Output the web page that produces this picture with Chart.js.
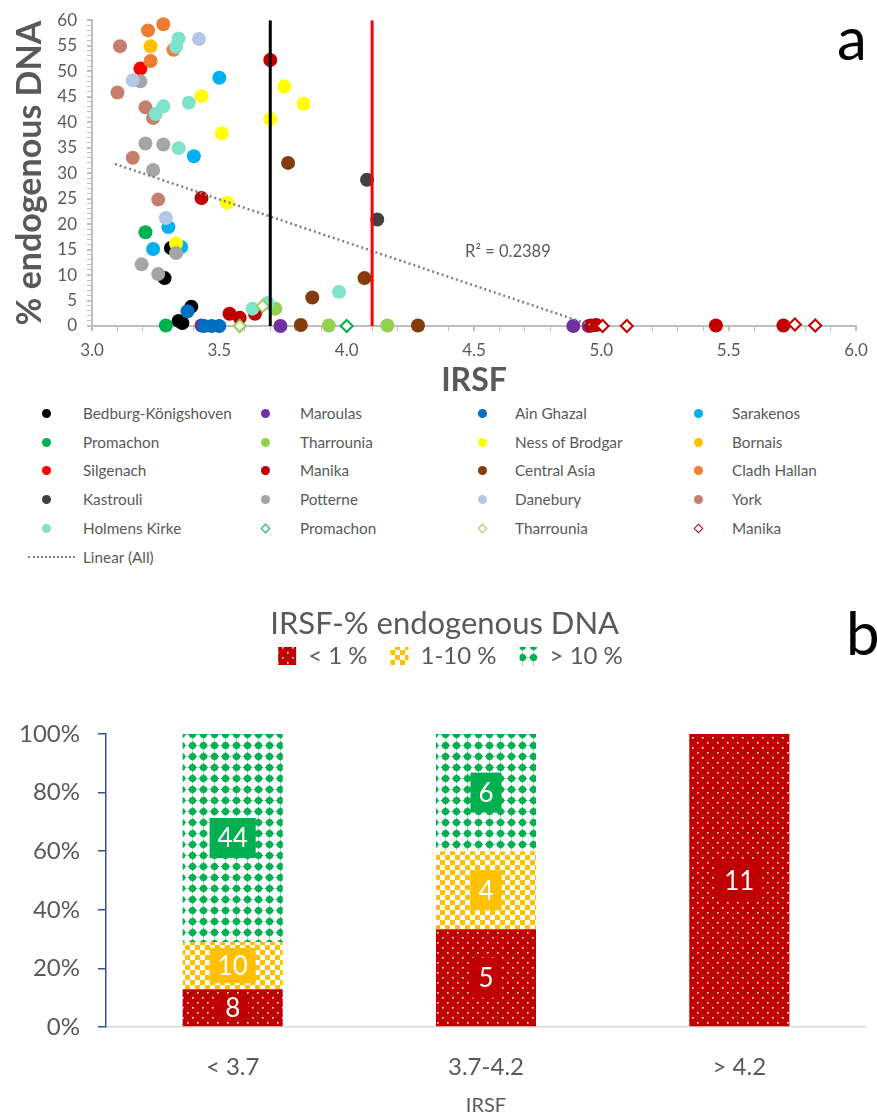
<!DOCTYPE html>
<html>
<head>
<meta charset="utf-8">
<script src="https://cdn.jsdelivr.net/npm/chart.js@4.4.1/dist/chart.umd.min.js"></script>
<style>
  body { margin: 0; background: #fff; font-family: Lato, sans-serif; }
  #wrap { position: relative; width: 877px; height: 1118px; overflow: hidden; background: #fff; }
  canvas { position: absolute; left: 0; }
  #scatter { top: 0; }
  #bars { top: 575px; }
  .panel { position: absolute; font-size: 60px; line-height: 1; color: #000; }
  .leg { position: absolute; height: 20px; line-height: 20px; font-size: 15.3px; color: #595959; white-space: nowrap; }
  .mk { position: absolute; }
</style>
</head>
<body>
<div id="wrap">
  <canvas id="scatter" width="877" height="400"></canvas>
  <canvas id="bars" width="877" height="543"></canvas>
  <div class="panel" style="left:837px; top:7px;">a</div>
  <div class="panel" style="left:846px; top:602px;">b</div>
  <div id="legendA"></div>
</div>
<script>
// ---- panel a: [IRSF, % endogenous DNA] per site
const bedburg = [[3.31, 15.3], [3.285, 9.4], [3.39, 3.8], [3.34, 1.0], [3.355, 0.6]];
const maroulas = [[3.43, 0.1], [3.74, 0], [4.89, 0], [4.95, 0]];
const ainGhazal = [[3.375, 2.9], [3.44, 0], [3.47, 0], [3.50, 0]];
const sarakenos = [[3.50, 48.7], [3.40, 33.3], [3.30, 19.4], [3.24, 15.1], [3.35, 15.5]];
const promachon = [[3.21, 18.4], [3.29, 0.1]];
const tharrounia = [[3.72, 3.4], [3.93, 0.1], [4.16, 0.1]];
const nessOfBrodgar = [[3.755, 47.0], [3.83, 43.6], [3.43, 45.1], [3.70, 40.6], [3.51, 37.8], [3.53, 24.2], [3.33, 16.2]];
const bornais = [[3.23, 54.9]];
const silgenach = [[3.19, 50.5]];
const manika = [[3.70, 52.2], [3.43, 25.1], [3.54, 2.4], [3.58, 1.6], [3.64, 2.4], [4.96, 0.1], [4.98, 0.2], [5.45, 0.1], [5.715, 0.1]];
const centralAsia = [[3.77, 32.0], [4.07, 9.4], [3.865, 5.6], [3.82, 0.2], [4.28, 0.1]];
const cladhHallan = [[3.22, 58.0], [3.28, 59.2], [3.32, 54.2], [3.23, 52.0]];
const kastrouli = [[4.08, 28.7], [4.12, 20.9]];
const potterne = [[3.19, 48.0], [3.21, 35.8], [3.28, 35.6], [3.24, 30.6], [3.33, 14.3], [3.195, 12.1], [3.26, 10.2]];
const danebury = [[3.42, 56.3], [3.16, 48.2], [3.29, 21.2]];
const york = [[3.11, 54.9], [3.10, 45.8], [3.21, 42.9], [3.24, 40.8], [3.16, 33.0], [3.26, 24.8]];
const holmensKirke = [[3.34, 56.4], [3.33, 54.8], [3.38, 43.8], [3.28, 43.1], [3.25, 41.6], [3.34, 34.9], [3.97, 6.7], [3.63, 3.4], [3.69, 4.5]];
const promachonOpen = [[4.00, 0]];
const tharrouniaOpen = [[3.58, 0], [3.67, 3.9]];
const manikaOpen = [[5.005, 0], [5.10, 0], [5.76, 0.3], [5.84, 0.1]];
const trendLine = [[3.09, 31.8], [4.97, 0]];
const thresholdLow = 3.7;
const thresholdHigh = 4.1;
const r2Text = 'R² = 0.2389';
const r2Pos = [4.465, 14.5];

// ---- panel b: sample counts per IRSF class
const irsfClasses = ['< 3.7', '3.7-4.2', '> 4.2'];
const bandLabels = ['< 1 %', '1-10 %', '> 10 %'];
const countBelow1 = [8, 5, 11];
const count1to10 = [10, 4, 0];
const countAbove10 = [44, 6, 0];

const GREY = '#595959';
Chart.defaults.font.family = 'Lato';
Chart.defaults.color = GREY;

// legend order = 4 columns, row by row
const sites = [
  { name: 'Bedburg-Königshoven', color: '#000000', pts: bedburg },
  { name: 'Maroulas', color: '#7030A0', pts: maroulas },
  { name: 'Ain Ghazal', color: '#0070C0', pts: ainGhazal },
  { name: 'Sarakenos', color: '#00B0F0', pts: sarakenos },
  { name: 'Promachon', color: '#00B050', pts: promachon },
  { name: 'Tharrounia', color: '#92D050', pts: tharrounia },
  { name: 'Ness of Brodgar', color: '#FFFF00', pts: nessOfBrodgar },
  { name: 'Bornais', color: '#FFC000', pts: bornais },
  { name: 'Silgenach', color: '#FF0000', pts: silgenach },
  { name: 'Manika', color: '#C00000', pts: manika },
  { name: 'Central Asia', color: '#843C0C', pts: centralAsia },
  { name: 'Cladh Hallan', color: '#ED7D31', pts: cladhHallan },
  { name: 'Kastrouli', color: '#404040', pts: kastrouli },
  { name: 'Potterne', color: '#A5A5A5', pts: potterne },
  { name: 'Danebury', color: '#B4C7E7', pts: danebury },
  { name: 'York', color: '#C4806C', pts: york },
  { name: 'Holmens Kirke', color: '#7FE3CB', pts: holmensKirke },
  { name: 'Promachon', color: '#00B050', pts: promachonOpen, open: true },
  { name: 'Tharrounia', color: '#92D050', pts: tharrouniaOpen, open: true },
  { name: 'Manika', color: '#C00000', pts: manikaOpen, open: true }
];

const toXY = arr => arr.map(p => ({ x: p[0], y: p[1] }));

const scatterSets = sites.map((s, i) => ({
  label: s.name,
  data: toXY(s.pts),
  order: -i,
  clip: false,
  pointStyle: s.open ? 'rectRot' : 'circle',
  pointRadius: s.open ? 6 : 7,
  backgroundColor: s.open ? '#ffffff' : s.color,
  borderColor: s.color,
  borderWidth: s.open ? 2 : 0
}));

scatterSets.push({
  type: 'line', label: 'Linear (All)', data: toXY(trendLine), order: -100,
  borderColor: '#808080', borderWidth: 2.5, borderDash: [2, 3], pointRadius: 0
});
scatterSets.push({
  type: 'line', label: 'IRSF 3.7', data: [{ x: thresholdLow, y: 0 }, { x: thresholdLow, y: 60 }], order: -101,
  borderColor: '#000000', borderWidth: 3, pointRadius: 0
});
scatterSets.push({
  type: 'line', label: 'IRSF 4.1', data: [{ x: thresholdHigh, y: 0 }, { x: thresholdHigh, y: 60 }], order: -102,
  borderColor: '#FF0000', borderWidth: 3, pointRadius: 0
});

const near = (v, step) => Math.abs(v / step - Math.round(v / step)) < 1e-6;

const r2Label = {
  id: 'r2Label',
  afterDatasetsDraw(chart) {
    const { ctx, scales } = chart;
    ctx.save();
    ctx.font = '16.5px Lato';
    ctx.fillStyle = GREY;
    ctx.textBaseline = 'middle';
    ctx.fillText(r2Text, scales.x.getPixelForValue(r2Pos[0]), scales.y.getPixelForValue(r2Pos[1]));
    ctx.restore();
  }
};

new Chart(document.getElementById('scatter'), {
  type: 'scatter',
  data: { datasets: scatterSets },
  options: {
    responsive: false,
    animation: false,
    events: [],
    layout: { padding: { top: 16, right: 21, left: 0, bottom: 0 } },
    plugins: { legend: { display: false }, tooltip: { enabled: false } },
    scales: {
      x: {
        type: 'linear', min: 3, max: 6,
        afterFit: s => { s.height = 74; },
        border: { color: '#BFBFBF', width: 2 },
        grid: { drawOnChartArea: false, color: '#BFBFBF', tickLength: 5,
                lineWidth: c => (c.tick && near(c.tick.value, 0.5)) ? 2 : 1 },
        ticks: { stepSize: 0.1, autoSkip: false, maxRotation: 0, maxTicksLimit: 100, padding: 9,
                 color: GREY, font: { size: 17 },
                 callback: v => near(v, 0.5) ? v.toFixed(1) : '' },
        title: { display: true, text: 'IRSF', color: GREY, font: { size: 32, weight: 'bold' },
                 padding: { top: 3, bottom: 0 } }
      },
      y: {
        min: 0, max: 60,
        afterFit: s => { s.width = 92; },
        border: { color: '#BFBFBF', width: 2 },
        grid: { drawOnChartArea: false, color: '#BFBFBF', tickLength: 5,
                lineWidth: c => (c.tick && near(c.tick.value, 5)) ? 2 : 1 },
        ticks: { stepSize: 1, autoSkip: false, maxTicksLimit: 100, padding: 10,
                 color: GREY, font: { size: 17 },
                 callback: v => near(v, 5) ? String(Math.round(v)) : '' },
        title: { display: true, text: '% endogenous DNA', color: GREY, font: { size: 34, weight: 'bold' },
                 padding: { top: 10, bottom: 0 } }
      }
    }
  },
  plugins: [r2Label]
});

// ---- html legend for panel a
(function buildLegend() {
  const box = document.getElementById('legendA');
  const colMarker = [46, 265, 482, 698];
  const colText = [83, 300, 515, 732];
  const rowY = [413, 442, 470, 499, 528];
  sites.forEach((s, i) => {
    const c = i % 4, r = Math.floor(i / 4);
    const y = rowY[r];
    const mk = document.createElement('div');
    mk.className = 'mk';
    if (s.open) {
      mk.style.cssText = `left:${colMarker[c] - 3.5}px; top:${y - 3.5}px; width:5px; height:5px; border:1.5px solid ${s.color}; transform:rotate(45deg); background:#fff;`;
    } else {
      mk.style.cssText = `left:${colMarker[c] - 4.5}px; top:${y - 4.5}px; width:9px; height:9px; border-radius:50%; background:${s.color};`;
    }
    box.appendChild(mk);
    const t = document.createElement('div');
    t.className = 'leg';
    t.style.left = colText[c] + 'px';
    t.style.top = (y - 10) + 'px';
    t.textContent = s.name;
    box.appendChild(t);
  });
  const ln = document.createElement('div');
  ln.className = 'mk';
  ln.style.cssText = 'left:28px; top:556px; width:47px; height:0; border-top:2px dotted #808080;';
  box.appendChild(ln);
  const lt = document.createElement('div');
  lt.className = 'leg';
  lt.style.left = '83px';
  lt.style.top = '547px';
  lt.textContent = 'Linear (All)';
  box.appendChild(lt);
})();

// ---- panel b
function makePattern(kind) {
  const c = document.createElement('canvas');
  const size = kind === 'diamonds' ? 11 : 10;
  c.width = size; c.height = size;
  const g = c.getContext('2d');
  if (kind === 'dots') {
    g.fillStyle = '#C00000'; g.fillRect(0, 0, size, size);
    g.fillStyle = '#ffffff';
    g.fillRect(2, 2, 1.6, 1.6); g.fillRect(7, 7, 1.6, 1.6);
  } else if (kind === 'checks') {
    g.fillStyle = '#FFC000'; g.fillRect(0, 0, size, size);
    g.fillStyle = '#ffffff';
    g.fillRect(0, 0, 5, 5); g.fillRect(5, 5, 5, 5);
  } else {
    const m = size / 2;
    g.fillStyle = '#ffffff'; g.fillRect(0, 0, size, size);
    g.fillStyle = '#00B050';
    g.beginPath(); g.arc(m, m, 3.6, 0, Math.PI * 2); g.fill();
    g.beginPath();
    g.moveTo(m, 0); g.lineTo(m + 1.4, m); g.lineTo(m, size); g.lineTo(m - 1.4, m); g.closePath(); g.fill();
    g.beginPath();
    g.moveTo(0, m); g.lineTo(m, m + 1.4); g.lineTo(size, m); g.lineTo(m, m - 1.4); g.closePath(); g.fill();
  }
  return g.createPattern(c, 'repeat');
}

const totals = irsfClasses.map((_, i) => countBelow1[i] + count1to10[i] + countAbove10[i]);
const pct = arr => arr.map((n, i) => n / totals[i] * 100);

const barSets = [
  { label: bandLabels[0], counts: countBelow1, solid: '#C00000', backgroundColor: makePattern('dots') },
  { label: bandLabels[1], counts: count1to10, solid: '#FFC000', backgroundColor: makePattern('checks') },
  { label: bandLabels[2], counts: countAbove10, solid: '#00B050', backgroundColor: makePattern('diamonds') }
].map(d => Object.assign(d, { data: pct(d.counts), borderWidth: 0, barPercentage: 0.395, categoryPercentage: 1 }));

const countLabels = {
  id: 'countLabels',
  afterDatasetsDraw(chart) {
    const ctx = chart.ctx;
    chart.data.datasets.forEach((ds, i) => {
      chart.getDatasetMeta(i).data.forEach((bar, j) => {
        const n = ds.counts[j];
        if (!n) return;
        const cy = (bar.y + bar.base) / 2;
        ctx.save();
        ctx.font = '26px Lato';
        const w = ctx.measureText(String(n)).width + 16;
        const h = Math.min(40, Math.abs(bar.base - bar.y) - 12);
        ctx.fillStyle = ds.solid;
        ctx.fillRect(bar.x - w / 2, cy - h / 2, w, h);
        ctx.fillStyle = '#ffffff';
        ctx.textAlign = 'center';
        ctx.textBaseline = 'middle';
        ctx.fillText(String(n), bar.x, cy + 1);
        ctx.restore();
      });
    });
  }
};

new Chart(document.getElementById('bars'), {
  type: 'bar',
  data: { labels: irsfClasses, datasets: barSets },
  options: {
    responsive: false,
    animation: false,
    events: [],
    layout: { padding: { top: 0, right: 11, left: 0, bottom: 0 } },
    plugins: {
      tooltip: { enabled: false },
      title: { display: true, text: '\u2003IRSF-% endogenous DNA', color: GREY,
               font: { size: 31, weight: 'normal', lineHeight: 1 }, padding: { top: 33, bottom: 0 } },
      legend: {
        position: 'top',
        labels: {
          boxWidth: 18, boxHeight: 18, padding: 5, color: GREY, font: { size: 24 },
          generateLabels(chart) {
            const items = Chart.defaults.plugins.legend.labels.generateLabels(chart);
            items.forEach((it, k) => { if (k < items.length - 1) it.text += '\u2003'; });
            // invisible spacer so the row sits a little right of centre, as in the original
            items.unshift({ text: '', fillStyle: 'rgba(0,0,0,0)', strokeStyle: 'rgba(0,0,0,0)',
                            lineWidth: 0, hidden: false, datasetIndex: -1 });
            return items;
          }
        }
      }
    },
    scales: {
      x: {
        stacked: true,
        afterFit: s => { s.height = 91; },
        border: { color: '#D9D9D9', width: 1.5 },
        grid: { display: false, drawTicks: false },
        ticks: { padding: 26, color: GREY, font: { size: 24 } },
        title: { display: true, text: 'IRSF', color: GREY, font: { size: 20 }, padding: { top: 1, bottom: 0 } }
      },
      gap: {
        type: 'category', position: 'top',
        afterFit: s => { s.height = 56; },
        border: { display: false },
        grid: { display: false, drawTicks: false },
        ticks: { display: false }
      },
      y: {
        stacked: true, min: 0, max: 100,
        afterFit: s => { s.width = 106; },
        border: { color: '#2F5597', width: 1.5 },
        grid: { drawOnChartArea: false, color: '#2F5597', tickLength: 8, lineWidth: 1.5 },
        ticks: { stepSize: 20, padding: 18, color: GREY, font: { size: 24 }, callback: v => v + '%' }
      }
    }
  },
  plugins: [countLabels]
});
</script>
</body>
</html>
